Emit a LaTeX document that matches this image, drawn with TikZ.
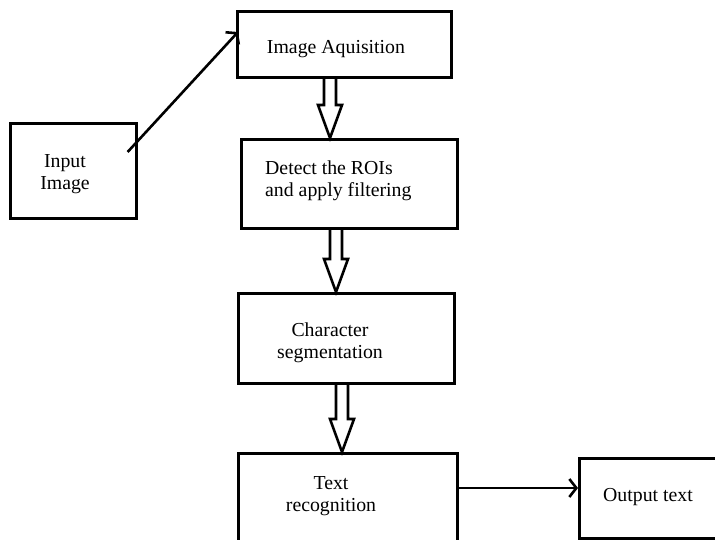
\documentclass[tikz,border=0pt]{standalone}
\usepackage{fontspec}
\setmainfont{Liberation Serif}
\usetikzlibrary{arrows.meta, calc}

% hollow block arrow: #1 = x, #2 = upper box, #3 = lower box
\newcommand{\fatarrow}[3]{%
  \draw[hollow] (#1-6,0 |- #2.south) -- ($(#1-6,0 |- #3.north)+(0,-33)$)
    -- ($(#1-12,0 |- #3.north)+(0,-33)$) -- (#1,0 |- #3.north)
    -- ($(#1+12,0 |- #3.north)+(0,-33)$) -- ($(#1+6,0 |- #3.north)+(0,-33)$)
    -- (#1+6,0 |- #2.south);}

\begin{document}
\begin{tikzpicture}[x=1pt, y=-1pt,
    blk/.style={draw, line width=2.6pt, inner sep=0pt, anchor=north west},
    lbl/.style={inner sep=0pt, font=\fontsize{19.8}{22.5}\selectfont},
    hollow/.style={line width=2.6pt, line join=miter},
    arr/.style={line width=2.6pt, -{Straight Barb[length=7pt, width=18pt]}}]
  \useasboundingbox (0,0) rectangle (715,539);
  \clip (0,0) rectangle (715,539);

  % boxes
  \node[blk, minimum width=126, minimum height=95] (input) at (9,122) {};
  \node[blk, minimum width=214, minimum height=66] (acq) at (236,10) {};
  \node[blk, minimum width=216, minimum height=89] (roi) at (240,138) {};
  \node[blk, minimum width=216, minimum height=90] (seg) at (237,292) {};
  \node[blk, minimum width=219, minimum height=113] (rec) at (237,452) {};
  \node[blk, minimum width=167, minimum height=80] (out) at (578,457) {};

  % texts
  \node[lbl, anchor=base] (acqtxt) at (336,53) {Image Aquisition};
  \node[lbl, align=center] (inputtxt) at (65,174) {Input\\Image};
  \node[lbl, align=left, anchor=west] (roitxt) at (265,181) {Detect the ROIs\\and apply filtering};
  \node[lbl, align=center] (segtxt) at (330,343) {Character\\segmentation};
  \node[lbl, align=center] (rectxt) at (331,496) {Text\\recognition};
  \node[lbl, anchor=base] (outtxt) at (648,501) {Output text};

  % arrows
  \coordinate (intail) at ($(input.north east)+(-10,30)$);
  \coordinate (inhead) at ($(acq.north west)+(2,22)$);
  \draw[arr] (intail) -- (inhead);

  \fatarrow{330}{acq}{roi}
  \fatarrow{336}{roi}{seg}
  \fatarrow{342}{seg}{rec}

  \coordinate (recout) at ($(rec.north east)+(0,36)$);
  \draw[arr] (recout) -- (recout -| out.west);
\end{tikzpicture}
\end{document}
